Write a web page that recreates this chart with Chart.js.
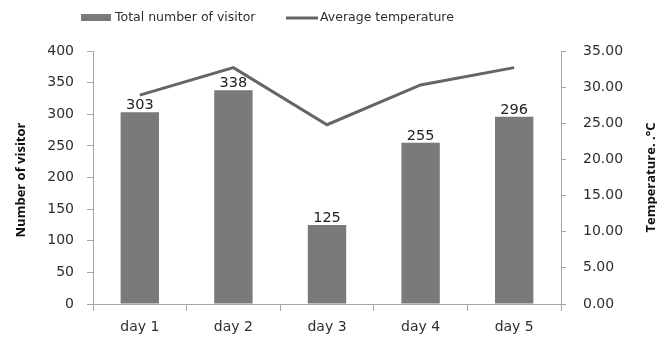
<!DOCTYPE html>
<html>
<head>
<meta charset="utf-8">
<script src="https://cdn.jsdelivr.net/npm/chart.js@4"></script>
<style>
html,body{margin:0;padding:0;background:#fff;}
#wrap{width:657px;height:340px;position:relative;}
</style>
</head>
<body>
<div id="wrap"><canvas id="c" width="657" height="340"></canvas></div>
<script>
const categories = ["day 1", "day 2", "day 3", "day 4", "day 5"];
const visitors = [303, 338, 125, 255, 296];
const temperature = [28.9, 32.7, 24.8, 30.3, 32.7];
const leftTicks = [0, 50, 100, 150, 200, 250, 300, 350, 400];
const rightTicks = [0, 5, 10, 15, 20, 25, 30, 35];
const barLabel = "Total number of visitor";
const lineLabel = "Average temperature";
const leftTitle = "Number of visitor";
const rightTitle = "Temperature. .\u00B0C";

const FONT = "'DejaVu Sans', sans-serif";
const TFONT = "'Open Sans', sans-serif";
const TXT = "#2e2e2e";
const AXIS = "#a6a6a6";
const BAR = "#7a7a78";
const LINE = "#656565";

const extras = {
  id: 'extras',
  afterDatasetsDraw(chart) {
    const ctx = chart.ctx;
    const meta = chart.getDatasetMeta(0);
    ctx.save();
    ctx.fillStyle = "#222";
    ctx.font = "14.5px " + FONT;
    ctx.textAlign = "center";
    ctx.textBaseline = "alphabetic";
    meta.data.forEach((el, i) => {
      ctx.fillText(String(visitors[i]), el.x, el.y - 3);
    });
    ctx.restore();
  },
  afterDraw(chart) {
    const ctx = chart.ctx;
    const ca = chart.chartArea;
    const midY = (ca.top + ca.bottom) / 2;
    ctx.save();
    ctx.fillStyle = "#111";
    ctx.font = "bold 13px " + TFONT;
    ctx.textAlign = "center";
    ctx.textBaseline = "middle";
    ctx.translate(21, 180);
    ctx.rotate(-Math.PI / 2);
    ctx.fillText(leftTitle, 0, 0);
    ctx.restore();
    ctx.save();
    ctx.fillStyle = "#111";
    ctx.font = "bold 13px " + TFONT;
    ctx.textAlign = "center";
    ctx.textBaseline = "middle";
    ctx.translate(651, midY);
    ctx.rotate(-Math.PI / 2);
    ctx.fillText(rightTitle, 0, 0);
    ctx.restore();
    // legend
    ctx.save();
    ctx.fillStyle = BAR;
    ctx.fillRect(81, 14, 30, 7);
    ctx.strokeStyle = LINE;
    ctx.lineWidth = 3;
    ctx.beginPath();
    ctx.moveTo(286, 18);
    ctx.lineTo(318, 18);
    ctx.stroke();
    ctx.fillStyle = TXT;
    ctx.font = "12.5px " + FONT;
    ctx.textAlign = "left";
    ctx.textBaseline = "middle";
    ctx.fillText(barLabel, 115, 18);
    ctx.fillText(lineLabel, 320, 18);
    ctx.restore();
  }
};

new Chart(document.getElementById('c'), {
  type: 'bar',
  data: {
    labels: categories,
    datasets: [
      {
        type: 'bar',
        label: barLabel,
        data: visitors,
        backgroundColor: BAR,
        yAxisID: 'y',
        barPercentage: 0.41,
        categoryPercentage: 1.0,
        order: 2
      },
      {
        type: 'line',
        label: lineLabel,
        data: temperature,
        borderColor: LINE,
        backgroundColor: LINE,
        borderWidth: 3,
        pointRadius: 0,
        tension: 0,
        yAxisID: 'y1',
        order: 1
      }
    ]
  },
  plugins: [extras],
  options: {
    responsive: false,
    animation: false,
    layout: { padding: { top: 51, left: 0, right: 0, bottom: 0 } },
    plugins: {
      legend: { display: false },
      tooltip: { enabled: false }
    },
    scales: {
      x: {
        offset: true,
        grid: {
          offset: true,
          drawOnChartArea: false,
          drawTicks: true,
          tickLength: 7,
          color: AXIS
        },
        border: { color: AXIS, width: 1 },
        ticks: { color: TXT, font: { family: FONT, size: 14 }, padding: 8 },
        afterFit(s) { s.height = 36; }
      },
      y: {
        position: 'left',
        min: 0,
        max: 400,
        afterBuildTicks(s) { s.ticks = leftTicks.map(v => ({ value: v })); },
        grid: { drawOnChartArea: false, tickLength: 6, color: AXIS },
        border: { color: AXIS, width: 1 },
        ticks: { color: TXT, font: { family: FONT, size: 14 }, padding: 13 },
        afterFit(s) { s.width = 93; }
      },
      y1: {
        position: 'right',
        min: 0,
        max: 35,
        afterBuildTicks(s) { s.ticks = rightTicks.map(v => ({ value: v })); },
        grid: { drawOnChartArea: false, tickLength: 5, color: AXIS },
        border: { color: AXIS, width: 1 },
        ticks: {
          color: TXT,
          font: { family: FONT, size: 14 },
          padding: 17,
          callback: v => Number(v).toFixed(2)
        },
        afterFit(s) { s.width = 96; }
      }
    }
  }
});
</script>
</body>
</html>
